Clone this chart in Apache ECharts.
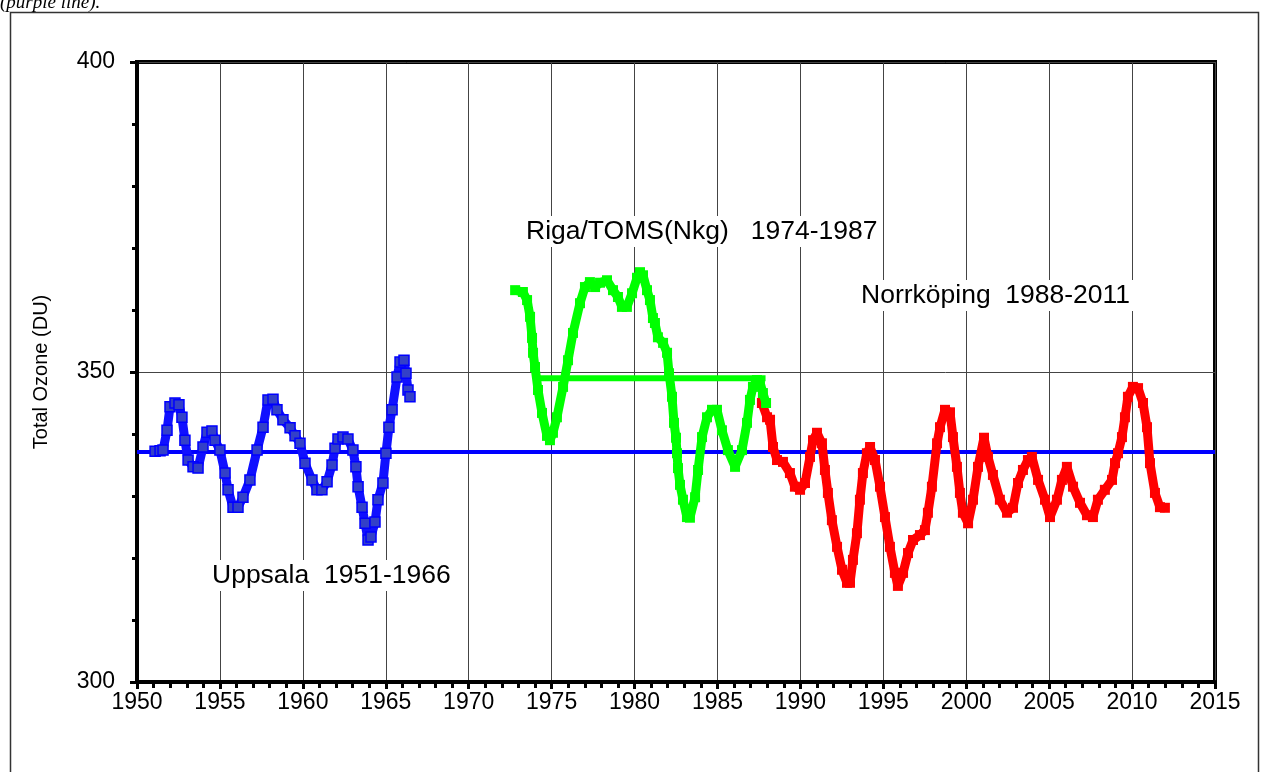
<!DOCTYPE html>
<html>
<head>
<meta charset="utf-8">
<script src="https://cdn.jsdelivr.net/npm/echarts@6/dist/echarts.min.js"></script>
<style>html,body{margin:0;padding:0;background:#fff;}#c{width:1261px;height:772px;}</style>
</head>
<body>
<div id="c"></div>
<script>
// ---- data ----
const xTicks = [1950,1955,1960,1965,1970,1975,1980,1985,1990,1995,2000,2005,2010,2015];
const yTicks = [300,350,400];

const uppsalaYears = [1951.09,1951.39,1951.57,1951.81,1951.99,1952.29,1952.53,1952.71,1952.89,1953.08,1953.38,1953.68,1953.98,1954.22,1954.52,1954.70,1955.00,1955.31,1955.49,1955.79,1956.09,1956.39,1956.81,1957.24,1957.60,1957.90,1958.20,1958.44,1958.80,1959.23,1959.53,1959.83,1960.13,1960.55,1960.85,1961.15,1961.46,1961.76,1961.94,1962.12,1962.42,1962.72,1963.02,1963.20,1963.33,1963.57,1963.75,1963.93,1964.11,1964.35,1964.53,1964.83,1965.01,1965.19,1965.38,1965.68,1965.86,1966.10,1966.22,1966.34,1966.46];
const uppsalaOzone = [337.2,337.3,337.4,340.6,344.4,345.0,344.7,342.7,339.0,335.8,334.7,334.5,337.9,340.3,340.5,339.0,337.4,333.7,331.0,328.2,328.2,329.8,332.6,337.4,341.1,345.5,345.6,343.9,342.3,341.0,339.7,338.5,335.3,332.6,331.0,331.0,332.3,335.0,337.7,339.2,339.5,339.2,337.4,334.7,331.5,328.2,325.6,322.9,323.4,325.8,329.4,332.1,336.9,341.1,343.9,349.2,351.6,351.9,349.8,347.1,346.0];

const rigaYears = [1972.80,1973.27,1973.52,1973.70,1973.82,1973.88,1974.00,1974.18,1974.42,1974.72,1974.90,1975.08,1975.32,1975.69,1975.99,1976.29,1976.71,1977.01,1977.31,1977.62,1977.92,1978.34,1978.70,1979.00,1979.24,1979.54,1979.85,1980.15,1980.33,1980.51,1980.75,1980.93,1981.11,1981.23,1981.41,1981.72,1981.96,1982.08,1982.26,1982.38,1982.50,1982.56,1982.62,1982.74,1982.92,1983.16,1983.34,1983.65,1983.83,1984.07,1984.37,1984.67,1984.97,1985.27,1985.63,1986.06,1986.48,1986.78,1986.96,1987.14,1987.38,1987.56,1987.74,1987.93];
const rigaOzone = [363.2,362.9,361.6,358.9,355.5,353.1,350.8,347.1,343.4,339.7,339.0,340.2,342.7,347.6,351.9,356.3,361.1,363.7,364.5,363.7,364.4,364.8,363.2,362.1,360.5,360.5,362.7,365.2,366.1,365.6,363.2,361.6,358.7,357.9,355.6,354.7,353.1,349.8,346.0,341.8,339.4,336.9,334.5,331.8,329.4,326.6,326.5,329.8,334.2,339.5,342.7,343.9,343.9,340.6,337.4,334.7,337.4,341.8,345.5,347.6,348.7,348.4,346.6,345.0];

const norrkopingYears = [1987.68,1987.99,1988.17,1988.35,1988.59,1988.95,1989.37,1989.67,1989.98,1990.28,1990.58,1990.76,1991.00,1991.30,1991.48,1991.66,1991.90,1992.21,1992.51,1992.81,1992.99,1993.17,1993.41,1993.59,1993.77,1994.01,1994.20,1994.50,1994.80,1995.10,1995.40,1995.70,1995.88,1996.19,1996.49,1996.79,1997.21,1997.51,1997.69,1997.93,1998.24,1998.42,1998.72,1999.02,1999.20,1999.44,1999.62,1999.80,2000.11,2000.41,2000.71,2001.07,2001.31,2001.61,2002.03,2002.46,2002.82,2003.12,2003.42,2003.72,2003.96,2004.33,2004.75,2005.05,2005.47,2005.77,2006.07,2006.44,2006.86,2007.28,2007.64,2007.94,2008.36,2008.79,2008.97,2009.15,2009.39,2009.57,2009.75,2010.05,2010.36,2010.66,2010.90,2011.08,2011.38,2011.68,2011.98];
const norrkopingOzone = [345.0,342.7,342.3,337.9,335.8,335.5,333.7,331.5,331.0,332.1,336.3,339.0,340.2,338.5,334.2,330.5,326.1,321.8,318.1,316.0,316.0,319.7,324.0,329.4,333.7,336.9,337.9,335.8,331.5,326.6,321.8,317.6,315.5,317.6,320.8,322.9,323.7,324.5,327.3,331.5,338.5,341.1,343.9,343.5,339.5,334.7,330.5,327.3,325.6,329.4,334.7,339.4,336.3,333.4,329.4,327.3,328.1,332.1,334.2,335.8,336.3,332.6,329.4,326.6,329.4,332.6,334.7,331.5,328.9,326.9,326.6,329.4,331.0,332.6,335.3,336.9,339.5,342.7,346.0,347.6,347.4,345.0,341.1,335.3,330.5,328.2,328.1];

const meanAll = 337.1;              // blue horizontal line
const meanAllSpan = [1950, 2015];
const meanRiga = 349.0;             // green horizontal line
const meanRigaSpan = [1973.9, 1987.9];

const labels = {
  riga: 'Riga/TOMS(Nkg)   1974-1987',
  norr: 'Norrköping  1988-2011',
  upp: 'Uppsala  1951-1966'
};

// ---- build ----
const pairs = (xs, ys) => xs.map((x, i) => [x, ys[i]]);
const chart = echarts.init(document.getElementById('c'), null, {renderer: 'canvas'});
const FONT = 'Liberation Sans, Arial, sans-serif';

const option = {
  animation: false,
  backgroundColor: '#fff',
  grid: {left: 137, right: 46, top: 62, bottom: 90, show: true, borderColor: '#000', borderWidth: 4, backgroundColor: 'transparent'},
  xAxis: {
    type: 'value', min: 1950, max: 2015, interval: 5,
    axisLine: {show: true, onZero: false, lineStyle: {color: '#000', width: 4}},
    axisTick: {show: true, inside: false, length: 7, lineStyle: {color: '#000', width: 3}},
    minorTick: {show: true, splitNumber: 5, length: 6, lineStyle: {color: '#000', width: 3}},
    splitLine: {show: true, lineStyle: {color: '#444', width: 1}},
    axisLabel: {fontSize: 23, color: '#000', fontFamily: FONT, margin: 9,
      formatter: v => xTicks.includes(v) ? String(v) : ''}
  },
  yAxis: {
    type: 'value', min: 300, max: 400, interval: 50,
    axisLine: {show: true, onZero: false, lineStyle: {color: '#000', width: 4}},
    axisTick: {show: true, inside: false, length: 7, lineStyle: {color: '#000', width: 3}},
    minorTick: {show: true, splitNumber: 5, length: 5, lineStyle: {color: '#000', width: 3}},
    splitLine: {show: true, lineStyle: {color: '#444', width: 1}},
    axisLabel: {fontSize: 23, color: '#000', fontFamily: FONT, margin: 22,
      formatter: v => yTicks.includes(v) ? String(v) : ''},
    name: 'Total Ozone (DU)', nameLocation: 'middle', nameGap: 86, nameRotate: 90,
    nameTextStyle: {fontSize: 20, color: '#000', fontFamily: FONT}
  },
  series: [
    {type: 'line', data: [[meanAllSpan[0], meanAll], [meanAllSpan[1], meanAll]], symbol: 'none',
      lineStyle: {color: '#0000ff', width: 4}, z: 2, silent: true},
    {type: 'line', data: pairs(norrkopingYears, norrkopingOzone), symbol: 'rect', symbolSize: 10, showSymbol: true,
      lineStyle: {color: '#ff0000', width: 9}, itemStyle: {color: '#ff0000'}, z: 3},
    {type: 'line', data: pairs(rigaYears, rigaOzone), symbol: 'rect', symbolSize: 10, showSymbol: true,
      lineStyle: {color: '#00ff00', width: 9}, itemStyle: {color: '#00ff00'}, z: 4},
    {type: 'line', data: [[meanRigaSpan[0], meanRiga], [meanRigaSpan[1], meanRiga]], symbol: 'none',
      lineStyle: {color: '#00ff00', width: 6}, z: 4, silent: true},
    {type: 'line', data: pairs(uppsalaYears, uppsalaOzone), symbol: 'rect', symbolSize: 10, showSymbol: true,
      lineStyle: {color: '#1010ff', width: 9}, itemStyle: {color: '#3340c8', borderColor: '#0000ff', borderWidth: 1.5}, z: 5}
  ],
  graphic: [
    {type: 'rect', left: 8, top: 10, shape: {width: 1248, height: 770}, style: {fill: 'none', stroke: '#333', lineWidth: 1.5}, z: 0, silent: true},
    {type: 'text', left: 0, top: -7, style: {text: '(purple line).', font: 'italic 19px "Liberation Serif", serif', fill: '#000'}},
    {type: 'text', left: 522, top: 216, style: {text: labels.riga, font: '26.5px ' + FONT, fill: '#000', backgroundColor: '#fff', padding: [2, 4]}, z: 10},
    {type: 'text', left: 857, top: 280, style: {text: labels.norr, font: '26.5px ' + FONT, fill: '#000', backgroundColor: '#fff', padding: [2, 4]}, z: 10},
    {type: 'text', left: 208, top: 560, style: {text: labels.upp, font: '26.5px ' + FONT, fill: '#000', backgroundColor: '#fff', padding: [2, 4]}, z: 10}
  ]
};
chart.setOption(option);
</script>
</body>
</html>
